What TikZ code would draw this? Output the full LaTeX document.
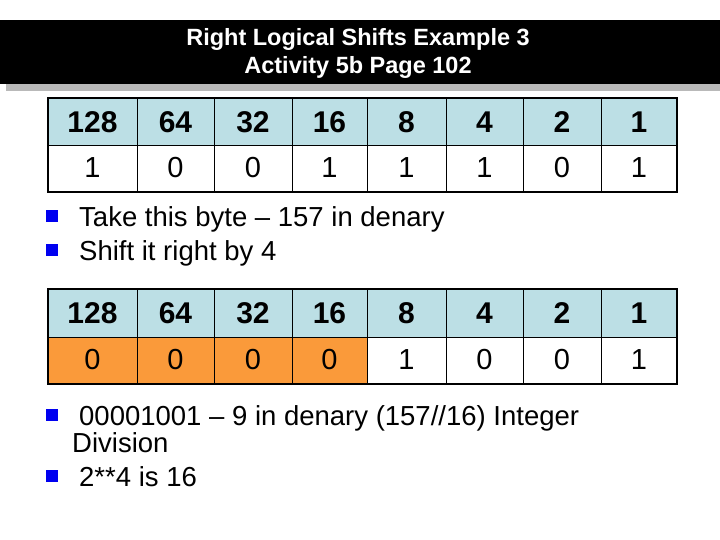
\documentclass[tikz,border=0pt]{standalone}
\usepackage{fontspec}
\setmainfont{Liberation Sans}
\definecolor{headblue}{HTML}{BCDFE5}
\definecolor{shiftorange}{HTML}{FA9A3A}
\definecolor{bulletblue}{HTML}{0000F0}
\tikzset{
  headtxt/.style={font=\fontsize{30}{30}\selectfont\bfseries},
  valtxt/.style={font=\fontsize{29}{29}\selectfont},
  bullettxt/.style={font=\fontsize{27.5}{27.5}\selectfont, anchor=base west, inner sep=0pt},
  bulletsq/.style={fill=bulletblue, minimum size=12pt, inner sep=0pt},
}
\begin{document}
\begin{tikzpicture}[x=1pt, y=-1pt]
  \useasboundingbox (0,0) rectangle (720,540);
  % title bar
  \fill[gray!55] (6,84) rectangle (720,91);
  \fill[black] (0,20) rectangle (720,84);
  \node[text=white, font=\fontsize{23.5}{28}\selectfont\bfseries, align=center] (title) at (358,53)
    {Right Logical Shifts Example 3\\Activity 5b Page 102};

  % first table
  \foreach \xa/\xb/\w/\v [count=\i] in {48/137/128/1, 137/214/64/0, 214/292/32/0, 292/367/16/1,
                                         367/446/8/1, 446/523/4/1, 523/601/2/0, 601/677/1/1} {
    \fill[headblue] (\xa,98) rectangle (\xb,145);
    \node[headtxt] (wa\i) at ({(\xa+\xb)/2},122) {\w};
    \node[valtxt] (va\i) at ({(\xa+\xb)/2},168) {\v};
    \draw (\xa,98) -- (\xa,192);
  }
  \draw (48,145) -- (677,145);
  \draw[line width=1.6pt] (48,98) rectangle (677,192);

  % bullets
  \node[bulletsq] (b1) at (52,216) {};
  \node[bullettxt] (t1) at (79,226) {Take this byte -- 157 in denary};
  \node[bulletsq] (b2) at (52,250) {};
  \node[bullettxt] (t2) at (79,260) {Shift it right by 4};

  % second table
  \foreach \xa/\xb/\w/\v [count=\i] in {48/137/128/0, 137/214/64/0, 214/292/32/0, 292/367/16/0,
                                         367/446/8/1, 446/523/4/0, 523/601/2/0, 601/677/1/1} {
    \fill[headblue] (\xa,289) rectangle (\xb,337);
    \ifnum\i<5 \fill[shiftorange] (\xa,337) rectangle (\xb,384); \fi
    \node[headtxt] (wb\i) at ({(\xa+\xb)/2},313) {\w};
    \node[valtxt] (vb\i) at ({(\xa+\xb)/2},360) {\v};
    \draw (\xa,289) -- (\xa,384);
  }
  \draw (48,337) -- (677,337);
  \draw[line width=1.6pt] (48,289) rectangle (677,384);

  % result bullets
  \node[bulletsq] (b3) at (52,415) {};
  \node[bullettxt] (t3) at (79,425) {00001001 -- 9 in denary (157//16) Integer};
  \node[bullettxt] (t4) at (72,452) {Division};
  \node[bulletsq] (b4) at (52,476) {};
  \node[bullettxt] (t5) at (79,486) {2**4 is 16};
\end{tikzpicture}
\end{document}
